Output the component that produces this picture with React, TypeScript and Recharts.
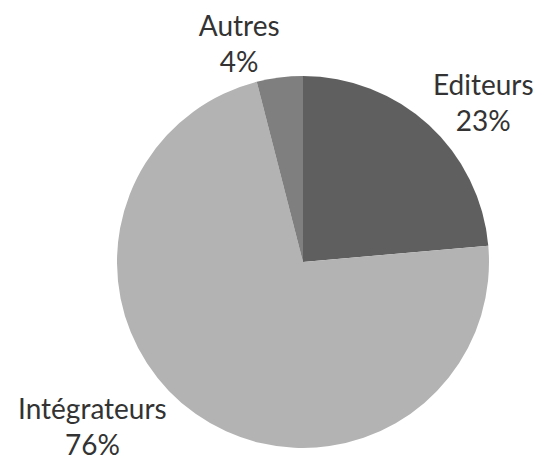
import { PieChart, Pie, Cell } from "recharts";

// slice shares, measured from the slice angles in the picture
const categories = ["Editeurs", "Intégrateurs", "Autres"];
const shares = [23.6, 72.4, 4.0];
// percentages as printed on the chart labels
const pctLabels = ["23%", "76%", "4%"];

const COLORS = ["#5f5f5f", "#b3b3b3", "#7f7f7f"];

// where each label block sits, as polar offset from the pie centre
const LABEL_POS = [
  { angle: 41.3, extra: 54 },
  { angle: -141.8, extra: 82 },
  { angle: 106.4, extra: 40 },
];

const data = categories.map((name, i) => ({ name, value: shares[i], pct: pctLabels[i] }));

const RAD = Math.PI / 180;

function renderLabel(props: any) {
  const { cx, cy, outerRadius, index } = props;
  const pos = LABEL_POS[index];
  const r = outerRadius + pos.extra;
  const x = cx + r * Math.cos(pos.angle * RAD);
  const y = cy - r * Math.sin(pos.angle * RAD);
  return (
    <text
      x={x}
      y={y - 9}
      textAnchor="middle"
      fill="#333"
      fontFamily="Lato, sans-serif"
      fontSize={28}
    >
      <tspan x={x} y={y - 9}>{data[index].name}</tspan>
      <tspan x={x} y={y + 27}>{data[index].pct}</tspan>
    </text>
  );
}

export default function App() {
  return (
    <div style={{ position: "absolute", left: 0, top: 0, background: "#fff" }}>
      <PieChart width={539} height={460} margin={{ top: 0, right: 0, bottom: 0, left: 0 }}>
        <Pie
          data={data}
          dataKey="value"
          nameKey="name"
          cx={303}
          cy={262}
          outerRadius={186}
          startAngle={90}
          endAngle={-270}
          stroke="none"
          label={renderLabel}
          labelLine={false}
          isAnimationActive={false}
        >
          {data.map((_, i) => (
            <Cell key={i} fill={COLORS[i]} />
          ))}
        </Pie>
      </PieChart>
    </div>
  );
}
